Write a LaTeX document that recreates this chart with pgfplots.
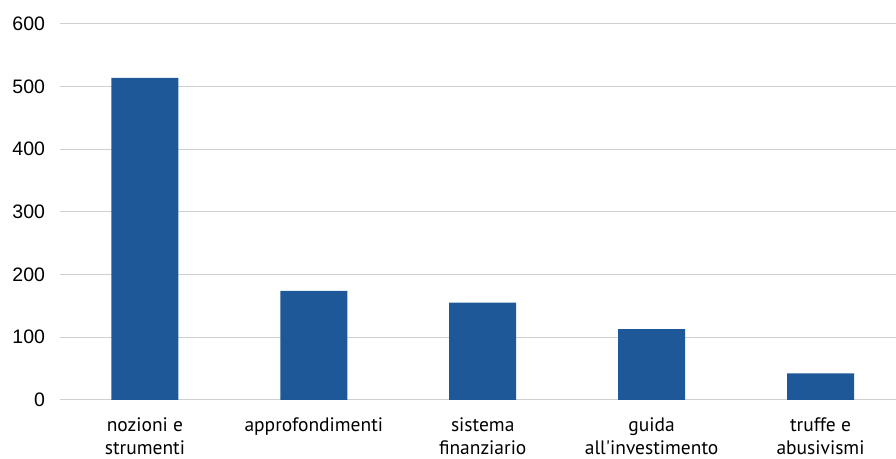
\documentclass[border=0pt]{standalone}
\usepackage{pgfplots}
\pgfplotsset{compat=1.18}
\usepackage{fontspec}
\setmainfont{Liberation Sans}
\newfontfamily\catfont{PT Sans}
\definecolor{barblue}{RGB}{31,88,153}
\definecolor{gridgray}{RGB}{208,208,208}

\begin{document}
\begin{tikzpicture}
\begin{axis}[
  at={(0,0)}, anchor=south west,
  scale only axis,
  width=835.5pt, height=376pt,
  xmin=-0.5, xmax=4.444,
  ymin=0, ymax=600,
  ytick={0,100,...,600},
  ymajorgrids,
  grid style={gridgray, line width=1pt},
  axis line style={draw=none},
  major tick length=0pt,
  xtick=data,
  xticklabels={{nozioni e\\strumenti},{approfondimenti},{sistema\\finanziario},{guida\\all'investimento},{truffe e\\abusivismi}},
  xticklabel style={align=center, anchor=north, yshift=-14pt, font=\catfont\fontsize{19.5}{23.5}\selectfont},
  yticklabel style={font=\fontsize{19.5}{20}\selectfont, xshift=-12pt},
  /pgf/number format/assume math mode=true,
  ybar, bar width=67pt,
]
\addplot[fill=barblue, draw=none] coordinates {(0,514) (1,174) (2,155) (3,113) (4,42)};
\end{axis}
\path (-60.5pt,-59pt) rectangle (835.5pt,400pt);
\end{tikzpicture}
\end{document}
